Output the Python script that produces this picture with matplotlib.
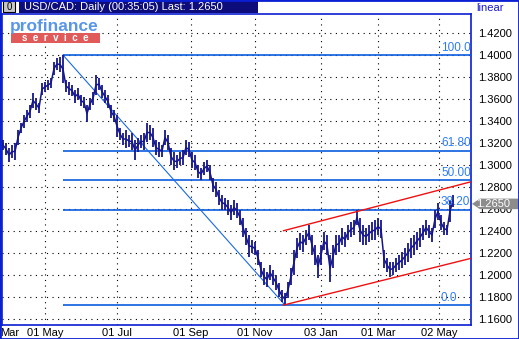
import numpy as np
import matplotlib
matplotlib.use("Agg")
import matplotlib.pyplot as plt
from matplotlib.patches import Rectangle, Polygon
import matplotlib.transforms as mtransforms

plt.rcParams['font.family'] = ['Liberation Sans', 'DejaVu Sans']

# daily-ish bars (every ~2 sessions), USD/CAD Mar 2004 - May 2005
hi = [1.3230, 1.3203, 1.3158, 1.3185, 1.3203, 1.3321, 1.3385, 1.3458, 1.3503, 1.3548,
      1.3658, 1.3612, 1.3567, 1.3748, 1.3758, 1.3776, 1.3794, 1.3939, 1.3976, 1.3985,
      1.4003, 1.3776, 1.3758, 1.3730, 1.3685, 1.3703, 1.3639, 1.3621, 1.3548, 1.3612,
      1.3667, 1.3821, 1.3794, 1.3730, 1.3685, 1.3639, 1.3548, 1.3503, 1.3458, 1.3339,
      1.3294, 1.3321, 1.3276, 1.3294, 1.3230, 1.3248, 1.3276, 1.3294, 1.3385, 1.3367,
      1.3339, 1.3230, 1.3212, 1.3185, 1.3321, 1.3276, 1.3158, 1.3121, 1.3094, 1.3121,
      1.3139, 1.3230, 1.3212, 1.3121, 1.3094, 1.3003, 1.2976, 1.3030, 1.3048, 1.3003,
      1.2885, 1.2849, 1.2776, 1.2730, 1.2703, 1.2685, 1.2639, 1.2685, 1.2658, 1.2594,
      1.2521, 1.2430, 1.2367, 1.2321, 1.2303, 1.2230, 1.2121, 1.2067, 1.2030, 1.2094,
      1.2049, 1.2003, 1.1930, 1.1867, 1.1839, 1.1940, 1.2067, 1.2230, 1.2339, 1.2385,
      1.2367, 1.2412, 1.2458, 1.2367, 1.2276, 1.2185, 1.2276, 1.2394, 1.2367, 1.2185,
      1.2276, 1.2367, 1.2367, 1.2430, 1.2394, 1.2458, 1.2485, 1.2503, 1.2594, 1.2521,
      1.2458, 1.2430, 1.2458, 1.2485, 1.2503, 1.2521, 1.2503, 1.2230, 1.2158, 1.2121,
      1.2121, 1.2158, 1.2185, 1.2212, 1.2248, 1.2294, 1.2339, 1.2367, 1.2394, 1.2430,
      1.2458, 1.2503, 1.2458, 1.2430, 1.2594, 1.2658, 1.2548, 1.2485, 1.2458, 1.2685,
      1.2730]
lo = [1.3139, 1.3094, 1.3030, 1.3067, 1.3048, 1.3185, 1.3294, 1.3339, 1.3394, 1.3430,
      1.3521, 1.3503, 1.3476, 1.3639, 1.3667, 1.3685, 1.3703, 1.3821, 1.3867, 1.3849,
      1.3748, 1.3667, 1.3639, 1.3630, 1.3567, 1.3594, 1.3539, 1.3521, 1.3394, 1.3503,
      1.3548, 1.3639, 1.3685, 1.3612, 1.3567, 1.3521, 1.3430, 1.3394, 1.3258, 1.3230,
      1.3185, 1.3158, 1.3167, 1.3139, 1.3048, 1.3121, 1.3158, 1.3139, 1.3212, 1.3230,
      1.3167, 1.3094, 1.3076, 1.3076, 1.3185, 1.3139, 1.3003, 1.2958, 1.2976, 1.3003,
      1.3003, 1.3094, 1.3076, 1.2976, 1.2958, 1.2885, 1.2867, 1.2912, 1.2939, 1.2867,
      1.2758, 1.2712, 1.2639, 1.2594, 1.2594, 1.2548, 1.2503, 1.2548, 1.2521, 1.2458,
      1.2349, 1.2276, 1.2167, 1.2203, 1.2185, 1.2094, 1.1985, 1.1912, 1.1894, 1.1958,
      1.1912, 1.1867, 1.1803, 1.1758, 1.1730, 1.1794, 1.1912, 1.2003, 1.2158, 1.2230,
      1.2212, 1.2276, 1.2321, 1.2185, 1.2094, 1.1976, 1.2094, 1.2230, 1.2185, 1.1940,
      1.2067, 1.2185, 1.2212, 1.2276, 1.2258, 1.2321, 1.2349, 1.2367, 1.2458, 1.2303,
      1.2276, 1.2276, 1.2303, 1.2321, 1.2321, 1.2367, 1.2339, 1.2067, 1.2030, 1.1985,
      1.2003, 1.2030, 1.2049, 1.2067, 1.2094, 1.2121, 1.2158, 1.2185, 1.2230, 1.2258,
      1.2321, 1.2367, 1.2339, 1.2303, 1.2430, 1.2503, 1.2412, 1.2367, 1.2367, 1.2485,
      1.2621]
last_price = 1.2650

fib_pct = [0.0, 38.2, 50.0, 61.8, 100.0]
fib_text = ['0.0', '38.20', '50.00', '61.80', '100.00']

tick_pos = [2.3, 14, 38, 62.7, 84, 106, 125, 145.3]
tick_labels = ['Mar', '01 May', '01 Jul', '01 Sep', '01 Nov', '03 Jan', '01 Mar', '02 May']
price_ticks = [1.16, 1.18, 1.20, 1.22, 1.24, 1.26, 1.28, 1.30, 1.32, 1.34, 1.36, 1.38, 1.40, 1.42]

# regression channel drawn on the chart
chan_x = [93.5, 156]
chan_upper = [1.2406, 1.2851]
chan_lower = [1.1730, 1.2155]

frame_blue = '#0a1ed2'
bar_col = '#16168c'
fib_col = '#0b5ce0'

fig = plt.figure(figsize=(5.19, 3.39), dpi=100)
fig.patch.set_facecolor('white')
ax = fig.add_axes([2 / 519, 1 - 325 / 339, 469 / 519, 311 / 339])
ax.set_xlim(-0.33, 156)
ax.set_ylim(1.1549, 1.4376)

# dotted grid
for p in price_ticks:
    ax.axhline(p, color='black', lw=0.8, ls=(0, (1, 4)), zorder=0)
for x in tick_pos[1:]:
    ax.axvline(x, color='black', lw=0.8, ls=(0, (1, 4)), zorder=0)

hi = np.array(hi)
lo = np.array(lo)
idx = np.arange(len(hi))
ax.vlines(idx, lo, hi, color=bar_col, lw=1.3, zorder=4)
ax.plot(idx, (hi + lo) / 2, color=bar_col, lw=1.1, zorder=4)

# fibonacci retracement
i_hi = int(np.argmax(hi))
i_lo = int(np.argmin(lo))
H, L = hi[i_hi], lo[i_lo]
for pct, txt in zip(fib_pct, fib_text):
    lev = L + pct / 100 * (H - L)
    ax.hlines(lev, i_hi, 156, color=fib_col, lw=1.2, zorder=3)
    ax.text(146, lev + 0.0012, txt, color='#2c7cf6', fontsize=8.5,
            ha='left', va='bottom', zorder=5, clip_on=True)
ax.plot([i_hi, i_lo], [H, L], color='#1a6ae6', lw=0.8, zorder=3)

ax.plot(chan_x, chan_upper, color='#ee1111', lw=1.0, zorder=5)
ax.plot(chan_x, chan_lower, color='#ee1111', lw=1.0, zorder=5)

ax.yaxis.tick_right()
ax.set_yticks(price_ticks)
ax.set_yticklabels([f'{v:.4f}' for v in price_ticks])
ax.set_xticks(tick_pos)
ax.set_xticklabels(tick_labels)
ax.tick_params(axis='y', length=0, pad=5, labelsize=8)
ax.tick_params(axis='x', length=0, pad=2, labelsize=8)
for s in ax.spines.values():
    s.set_color(frame_blue)
    s.set_linewidth(1.2)

# last price tag
trans = mtransforms.blended_transform_factory(ax.transAxes, ax.transData)
tag = Polygon([(1.002, last_price), (1.019, last_price + 0.0048), (1.101, last_price + 0.0048),
               (1.101, last_price - 0.0048), (1.019, last_price - 0.0048)],
              closed=True, transform=trans, facecolor='#8c8c8c', edgecolor='none',
              clip_on=False, zorder=10)
ax.add_patch(tag)
ax.text(1.0107, last_price, f'{last_price:.4f}', transform=trans, color='white',
        fontsize=8, va='center', ha='left', clip_on=False, zorder=11)

# header
fig.patches.append(Rectangle((19 / 519, 1 - 13 / 339), 239 / 519, 13 / 339,
                             transform=fig.transFigure, facecolor='#0c0c7a', edgecolor='none'))
fig.text(24 / 519, 1 - 7 / 339, 'USD/CAD: Daily (00:35:05) Last: 1.2650', color='white',
         fontsize=8, va='center', ha='left')
fig.patches.append(Rectangle((3 / 519, 1 - 12 / 339), 12 / 519, 11 / 339,
                             transform=fig.transFigure, facecolor='#c8c8c8', edgecolor='black', lw=0.8))
fig.text(9 / 519, 1 - 6.5 / 339, '0', color='black', fontsize=7, va='center', ha='center')
fig.text(476 / 519, 1 - 8 / 339, 'linear', color='#1a1ad0', fontsize=8, va='center', ha='left')

# logo
fig.patches.append(Rectangle((11 / 519, 1 - 43 / 339), 89 / 519, 10 / 339,
                             transform=fig.transFigure, facecolor='#e05a5a', edgecolor='none'))
fig.text(55 / 519, 1 - 38 / 339, 's  e  r  v  i  c  e', color='white', fontsize=7,
         fontweight='bold', va='center', ha='center')
fig.text(10 / 519, 1 - 27 / 339, 'profinance', color='#5a96e8', fontsize=12.5,
         fontweight='bold', va='center', ha='left')

fig.patches.append(Rectangle((0, 0), 1, 1, transform=fig.transFigure, fill=False,
                             edgecolor=frame_blue, lw=2))

fig.savefig('out.png', dpi=100)
